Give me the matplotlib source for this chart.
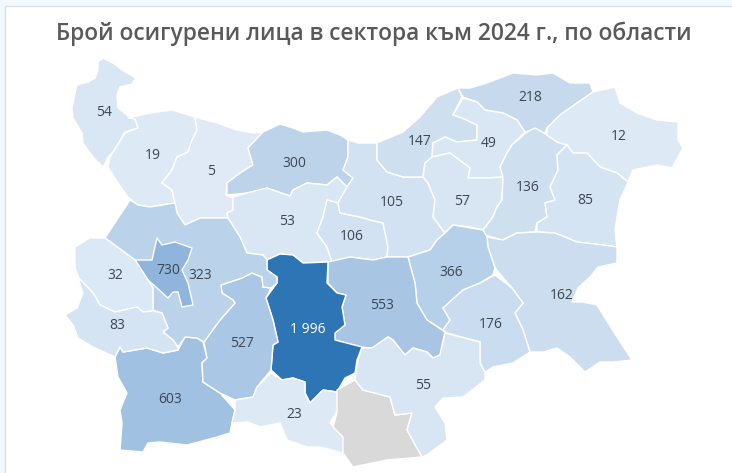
import matplotlib
matplotlib.use("Agg")
import matplotlib.pyplot as plt
from matplotlib.colors import LinearSegmentedColormap, Normalize
from matplotlib.patches import Polygon, Rectangle

plt.rcParams["font.family"] = ["Open Sans", "DejaVu Sans"]

TITLE = "Брой осигурени лица в сектора към 2024 г., по области"

# insured persons per district (None = no data)
REGIONS = ["Видин", "Монтана", "Враца", "Плевен", "Ловеч", "Габрово", "Велико Търново",
           "Русе", "Силистра", "Разград", "Търговище", "Шумен", "Добрич", "Варна",
           "Бургас", "Сливен", "Ямбол", "Стара Загора", "Пловдив", "Благоевград",
           "Пазарджик", "Смолян", "Кърджали", "Хасково", "София област", "София град",
           "Перник", "Кюстендил"]
VALUES = [54, 19, 5, 300, 53, 106, 105,
          147, 218, 49, 57, 136, 12, 85,
          162, 366, 176, 553, 1996, 603,
          527, 23, None, 55, 323, 730,
          32, 83]
VALUE_TEXT = ["54", "19", "5", "300", "53", "106", "105",
              "147", "218", "49", "57", "136", "12", "85",
              "162", "366", "176", "553", "1 996", "603",
              "527", "23", "", "55", "323", "730",
              "32", "83"]

# district outlines, in figure pixels
VIDIN = [(98, 62), (103, 58), (113, 63), (122, 70), (136, 78), (132, 84), (120, 87), (117, 95), (118, 108),
         (128, 116), (135, 118), (138, 128), (125, 132), (115, 150), (108, 157), (103, 167), (93, 157),
         (83, 143), (82, 133), (73, 118), (72, 108), (75, 93), (77, 85), (88, 82), (95, 78), (98, 70)]
MONTANA = [(128, 118), (150, 113), (172, 110), (195, 117), (197, 130), (192, 140), (188, 152), (177, 157),
           (172, 170), (162, 183), (172, 190), (175, 203), (150, 207), (138, 205), (128, 197), (118, 183),
           (108, 167), (110, 157), (125, 133), (138, 128), (135, 119)]
VRATSA = [(195, 117), (217, 123), (237, 130), (253, 133), (263, 132), (248, 148), (253, 165), (240, 173),
          (227, 183), (226, 195), (233, 198), (233, 210), (227, 213), (228, 218), (212, 218), (200, 218),
          (185, 225), (177, 213), (175, 203), (172, 190), (162, 183), (172, 170), (177, 157), (188, 152),
          (192, 140), (197, 130)]
PLEVEN = [(263, 132), (280, 124), (293, 128), (303, 132), (327, 130), (340, 135), (348, 140), (348, 157),
          (343, 170), (353, 178), (347, 187), (337, 177), (327, 185), (307, 183), (293, 190), (290, 196),
          (267, 188), (247, 193), (227, 195), (227, 183), (240, 173), (253, 165), (248, 148)]
LOVECH = [(233, 197), (247, 193), (267, 188), (290, 196), (293, 190), (307, 183), (327, 185), (337, 177),
          (347, 187), (338, 203), (327, 200), (323, 217), (317, 233), (327, 247), (332, 262), (303, 263),
          (293, 255), (280, 254), (267, 260), (263, 255), (247, 253), (240, 237), (228, 218), (227, 213),
          (233, 210)]
GABROVO = [(327, 200), (338, 203), (340, 213), (360, 217), (370, 220), (383, 223), (388, 247), (387, 257),
           (373, 260), (350, 257), (332, 262), (327, 247), (317, 233), (323, 217)]
V_TARNOVO = [(348, 140), (358, 143), (377, 143), (377, 160), (387, 172), (403, 177), (423, 177), (428, 183),
             (435, 200), (433, 217), (445, 233), (437, 240), (430, 250), (408, 257), (387, 257), (388, 247),
             (383, 223), (370, 220), (360, 217), (340, 213), (338, 203), (347, 187), (353, 178), (343, 170),
             (348, 157)]
RUSE = [(377, 143), (403, 132), (420, 117), (437, 97), (458, 88), (462, 97), (453, 115), (462, 118),
        (477, 125), (477, 140), (457, 142), (445, 137), (433, 143), (432, 157), (425, 163), (423, 177),
        (403, 177), (387, 172), (377, 160)]
SILISTRA = [(458, 88), (470, 88), (487, 83), (513, 73), (537, 75), (553, 73), (570, 83), (590, 83), (593, 92),
            (577, 103), (560, 115), (547, 128), (545, 133), (537, 130), (525, 132), (517, 120), (503, 113),
            (485, 110), (477, 102), (463, 97)]
RAZGRAD = [(463, 98), (477, 102), (485, 110), (503, 113), (517, 120), (525, 132), (512, 145), (507, 153),
           (500, 167), (503, 177), (487, 178), (468, 178), (470, 168), (450, 153), (432, 157), (433, 143),
           (445, 137), (457, 142), (477, 140), (477, 125), (462, 118), (453, 115)]
TARGOVISHTE = [(425, 163), (432, 157), (450, 153), (470, 168), (468, 178), (487, 178), (503, 177), (502, 200),
               (497, 207), (493, 217), (483, 230), (470, 227), (453, 225), (445, 233), (433, 217), (435, 200),
               (428, 183), (423, 177)]
SHUMEN = [(527, 132), (535, 128), (547, 135), (557, 142), (567, 145), (557, 155), (558, 170), (550, 187),
          (555, 200), (545, 203), (547, 217), (537, 223), (535, 232), (517, 233), (502, 240), (485, 235),
          (483, 230), (493, 217), (497, 207), (502, 200), (503, 177), (500, 167), (507, 153), (512, 145)]
DOBRICH = [(547, 128), (560, 115), (577, 103), (593, 92), (615, 87), (620, 103), (637, 113), (657, 120),
           (678, 122), (678, 140), (683, 148), (672, 168), (657, 165), (633, 170), (628, 182), (617, 173),
           (600, 167), (587, 153), (573, 153), (567, 145), (557, 142), (547, 135)]
VARNA = [(567, 145), (573, 153), (587, 153), (600, 167), (617, 173), (628, 182), (620, 200), (617, 217),
         (615, 230), (617, 247), (603, 245), (577, 242), (555, 233), (537, 232), (537, 223), (547, 217),
         (545, 203), (555, 200), (550, 187), (558, 170), (557, 155)]
BURGAS = [(487, 237), (503, 240), (517, 233), (537, 232), (555, 233), (577, 242), (603, 245), (617, 247),
          (617, 263), (598, 267), (590, 277), (578, 288), (572, 302), (583, 302), (597, 305), (605, 318),
          (617, 337), (632, 360), (613, 362), (600, 362), (585, 372), (570, 357), (557, 348), (543, 352),
          (530, 352), (523, 330), (515, 313), (523, 303), (512, 288), (495, 268), (488, 247)]
SLIVEN = [(408, 257), (430, 250), (437, 240), (445, 233), (453, 225), (483, 230), (487, 237), (488, 247),
          (495, 268), (493, 275), (480, 283), (463, 290), (443, 308), (450, 320), (443, 330), (427, 320),
          (417, 303), (415, 283)]
YAMBOL = [(495, 275), (512, 288), (523, 303), (515, 313), (523, 330), (530, 352), (513, 363), (493, 367),
          (485, 372), (480, 363), (480, 342), (447, 333), (443, 330), (450, 320), (443, 308), (463, 290),
          (480, 283)]
ST_ZAGORA = [(328, 262), (350, 257), (373, 260), (387, 257), (408, 257), (415, 283), (417, 303), (427, 320),
             (445, 332), (440, 355), (433, 358), (427, 352), (413, 348), (405, 355), (393, 340), (388, 337),
             (372, 348), (360, 347), (335, 340), (335, 333), (345, 325), (342, 307), (346, 295), (337, 293),
             (328, 283)]
PLOVDIV = [(267, 260), (280, 254), (293, 255), (303, 263), (328, 262), (327, 283), (337, 293), (346, 295),
           (342, 307), (345, 325), (335, 333), (335, 340), (362, 347), (357, 360), (355, 373), (345, 378),
           (337, 392), (323, 390), (310, 403), (305, 393), (305, 382), (293, 378), (282, 380), (271, 370),
           (273, 345), (278, 342), (273, 320), (266, 298), (277, 283), (277, 277), (267, 270)]
BLAGOEVGRAD = [(115, 357), (120, 347), (123, 352), (147, 348), (163, 353), (178, 350), (185, 337), (197, 338),
               (203, 342), (207, 358), (202, 363), (203, 382), (220, 393), (235, 410), (232, 423), (230, 433),
               (217, 437), (187, 445), (160, 442), (148, 443), (143, 452), (120, 450), (122, 423), (120, 410),
               (127, 393), (118, 377)]
PAZARDZHIK = [(204, 342), (220, 320), (235, 303), (233, 300), (222, 293), (221, 285), (242, 278), (252, 273),
              (262, 277), (263, 287), (271, 288), (266, 298), (273, 320), (278, 342), (273, 345), (271, 370),
              (257, 387), (253, 397), (235, 400), (220, 393), (203, 382), (202, 363), (207, 358)]
SMOLYAN = [(235, 400), (253, 397), (257, 387), (271, 373), (282, 380), (293, 378), (305, 382), (305, 393),
           (310, 403), (323, 390), (337, 392), (338, 410), (330, 423), (345, 437), (343, 453), (320, 447),
           (307, 447), (287, 440), (280, 423), (260, 427), (248, 422), (232, 423), (235, 410)]
KARDZHALI = [(337, 390), (355, 380), (363, 390), (390, 397), (395, 415), (412, 413), (407, 430), (422, 457),
             (387, 460), (353, 467), (343, 453), (343, 437), (333, 427), (337, 413)]
HASKOVO = [(358, 360), (362, 348), (372, 348), (388, 337), (393, 340), (405, 355), (413, 348), (427, 352),
           (433, 358), (440, 355), (445, 333), (480, 342), (480, 363), (485, 372), (485, 380), (463, 397),
           (443, 398), (435, 407), (445, 423), (447, 440), (427, 455), (422, 457), (407, 430), (412, 413),
           (395, 415), (390, 397), (363, 390), (355, 380)]
SOFIA_OBL = [(130, 200), (138, 205), (150, 207), (175, 203), (177, 213), (185, 225), (200, 218), (228, 218),
             (240, 237), (247, 253), (263, 255), (267, 260), (267, 270), (277, 277), (277, 283), (271, 288),
             (263, 287), (262, 277), (252, 273), (242, 278), (221, 285), (222, 293), (233, 300), (235, 303),
             (220, 320), (204, 342), (197, 338), (185, 337), (178, 347), (173, 340), (163, 332), (168, 328),
             (162, 313), (153, 310), (153, 288), (135, 260), (105, 238)]
SOFIA_GRAD = [(135, 260), (152, 260), (157, 238), (162, 245), (175, 242), (192, 248), (188, 260), (182, 270),
              (188, 283), (193, 305), (182, 307), (178, 292), (173, 292), (168, 298), (157, 288), (148, 280)]
PERNIK = [(75, 247), (90, 238), (105, 238), (135, 260), (153, 288), (153, 311), (143, 312), (137, 307),
          (115, 312), (100, 305), (93, 293), (78, 277), (75, 268)]
KYUSTENDIL = [(75, 268), (78, 277), (93, 293), (100, 305), (115, 312), (137, 307), (143, 312), (153, 311),
              (162, 313), (168, 328), (163, 332), (173, 340), (178, 347), (178, 350), (163, 353), (147, 348),
              (123, 352), (120, 347), (115, 357), (93, 347), (78, 338), (73, 325), (65, 315), (77, 308),
              (83, 293)]
OUTLINES = [VIDIN, MONTANA, VRATSA, PLEVEN, LOVECH, GABROVO, V_TARNOVO,
            RUSE, SILISTRA, RAZGRAD, TARGOVISHTE, SHUMEN, DOBRICH, VARNA,
            BURGAS, SLIVEN, YAMBOL, ST_ZAGORA, PLOVDIV, BLAGOEVGRAD,
            PAZARDZHIK, SMOLYAN, KARDZHALI, HASKOVO, SOFIA_OBL, SOFIA_GRAD,
            PERNIK, KYUSTENDIL]

LABEL_POS = [(104, 112), (153, 155), (211, 171), (294, 163), (287, 221), (352, 236), (392, 202),
             (420, 141), (530, 97), (489, 143), (462, 201), (528, 187), (619, 136), (585, 200),
             (562, 295), (451, 272), (491, 324), (382, 305), (308, 329), (170, 399),
             (242, 343), (294, 414), (0, 0), (423, 385), (200, 275), (168, 270),
             (115, 275), (117, 325)]

# colour ramp: pale blue for small counts, saturated blue for the largest
VMAX = 1996
RAMP = [(0.0, "#dfeaf6"), (54 / VMAX, "#d8e6f4"), (162 / VMAX, "#cbddef"), (300 / VMAX, "#bcd3ea"),
        (553 / VMAX, "#a8c6e4"), (730 / VMAX, "#8fb5dc"), (1.0, "#2e75b6")]
cmap = LinearSegmentedColormap.from_list("insured", RAMP)
norm = Normalize(0, VMAX)

fig = plt.figure(figsize=(7.32, 4.73), dpi=100, facecolor="#f3f8fc")
ax = fig.add_axes([0, 0, 1, 1])
ax.set_xlim(0, 732)
ax.set_ylim(473, 0)
ax.axis("off")

ax.add_patch(Rectangle((4.5, 6.5), 740, 480, facecolor="white", edgecolor="#dcdfe2", linewidth=1))

for outline, value in zip(OUTLINES, VALUES):
    color = "#d9d9d9" if value is None else cmap(norm(value))
    ax.add_patch(Polygon(outline, closed=True, facecolor=color, edgecolor="white",
                         linewidth=1.0, joinstyle="round"))

for (x, y), value, text in zip(LABEL_POS, VALUES, VALUE_TEXT):
    if value is None:
        continue
    ax.text(x, y, text, ha="center", va="center", fontsize=10,
            color="white" if value > 1000 else "#3d4651")

ax.text(374, 34, TITLE, ha="center", va="center", fontsize=16.4, color="#595959", fontweight="semibold")

fig.savefig("out.png", dpi=100, facecolor=fig.get_facecolor())
